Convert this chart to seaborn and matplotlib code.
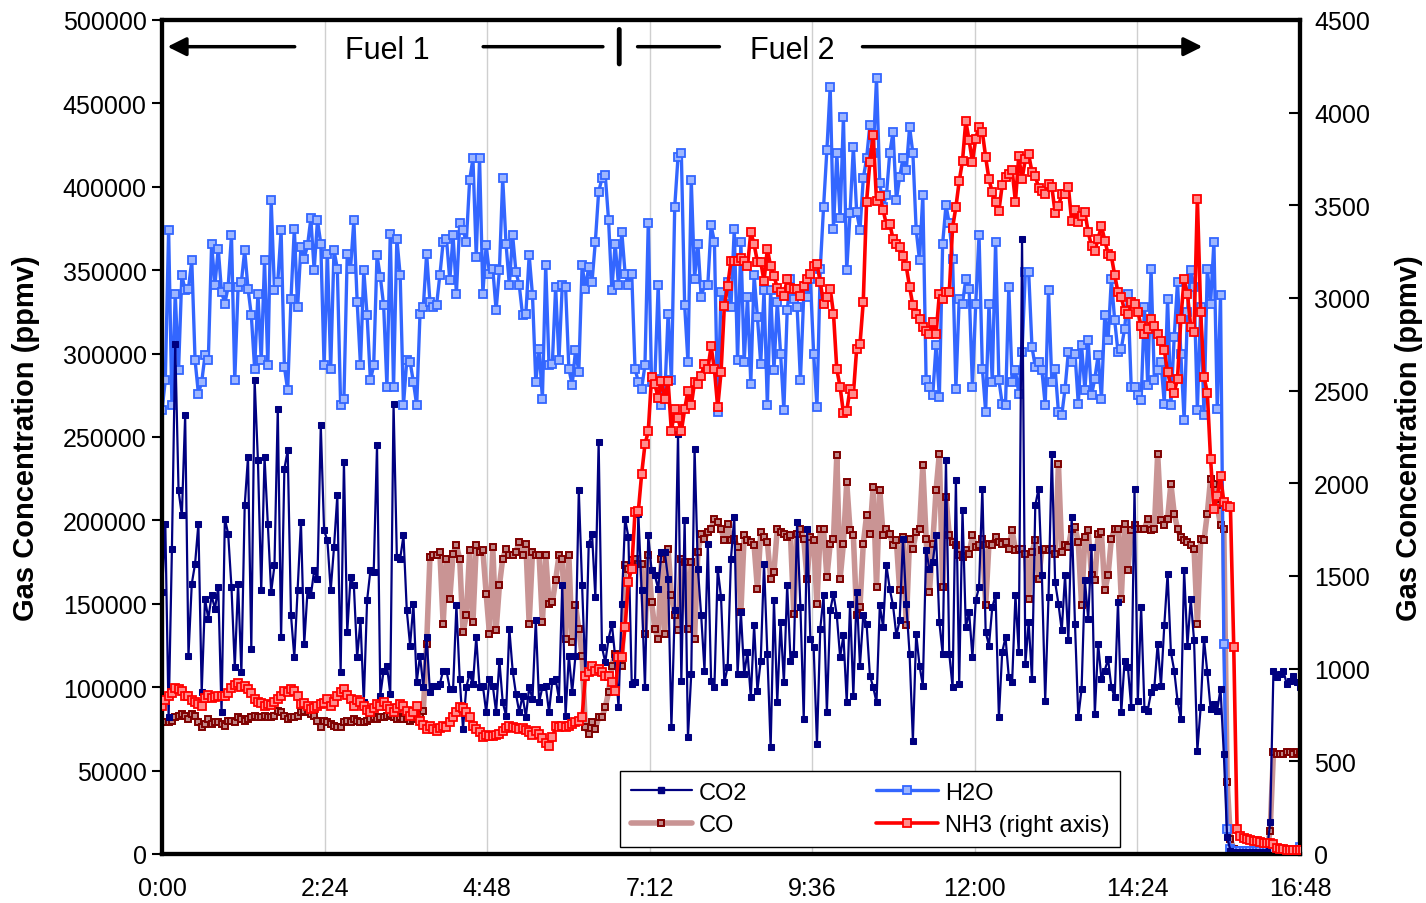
import numpy as np
import matplotlib
matplotlib.use("Agg")
import matplotlib.pyplot as plt
from matplotlib.lines import Line2D
import seaborn as sns

# sampling interval of the analyser (minutes)
step_min = 2.93

# H2O, thousands of ppmv (left axis)
h2o = [266, 284, 374, 269, 336, 290, 347, 338, 339, 356, 296, 276, 283, 299, 296, 366, 341, 363, 337, 330,
       340, 371, 284, 340, 343, 362, 339, 323, 291, 336, 296, 356, 293, 392, 338, 343, 374, 292, 278, 333,
       375, 328, 364, 357, 365, 381, 350, 380,
       366, 293, 360, 291, 362, 351, 269, 273, 360, 351, 380, 331, 293, 350, 323, 284, 293, 359, 346, 329,
       280, 372, 280, 369, 347, 269, 296, 295, 283, 269, 324, 328, 360, 331, 328, 329, 347, 367, 369, 344,
       371, 336, 378, 374, 367, 404, 417, 358,
       417, 336, 365, 348, 351, 326, 350, 405, 366, 341, 371, 349, 341, 323, 324, 359, 335, 283, 303, 273,
       353, 293, 294, 340, 296, 341, 340, 291, 281, 302, 289, 353, 339, 352, 343, 367, 397, 405, 407, 380,
       338, 366, 341, 373, 348, 341, 348, 291,
       283, 279, 293, 378, 283, 285, 341, 269, 275, 324, 284, 388, 418, 420, 329, 295, 404, 345, 366, 334,
       341, 341, 377, 367, 265, 337, 330, 343, 328, 375, 296, 367, 295, 334, 282, 347, 322, 294, 338, 269,
       338, 290, 331, 300, 266, 326, 345, 333,
       328, 284, 335, 334, 345, 300, 268, 351, 388, 422, 460, 375, 420, 381, 442, 350, 384, 424, 385, 374,
       405, 417, 437, 420, 465, 402, 388, 395, 420, 433, 392, 406, 417, 410, 436, 420, 374,
       356, 395, 284, 280, 275, 305, 274, 366, 389, 378, 357, 279, 333, 330, 345, 339, 280, 330, 371, 291,
       265, 330, 283, 367, 284, 270, 269, 340, 283, 290, 276, 301, 349, 349, 304, 292, 295, 290, 269, 338,
       283, 291, 265, 263, 279, 301, 295, 300, 270, 305, 278, 308, 275, 285, 299, 273, 323, 308, 345, 320,
       301, 303, 315, 336, 280, 280, 275, 272, 328, 281, 351, 284, 290, 295, 270, 333, 269, 310, 343, 300,
       260, 325, 350, 340, 266, 328, 263, 351, 330, 367, 267, 335, 126, 15,
       3, 2, 2, 2, 2, 2, 2, 2, 2, 2, 2, 2, 2, 2, 2, 2, 2, 2, 2, 2, 2, 4]

# CO2, thousands of ppmv (left axis)
co2 = [157, 198, 82, 183, 306, 218, 203, 263, 119, 162, 174, 198, 97, 153, 141, 155, 147, 160, 85, 201,
       192, 160, 112, 162, 109, 209, 238, 123, 284, 236, 158, 238, 198, 157, 173, 267, 130, 231, 242, 143,
       118, 158, 199, 126, 158, 155, 170, 165, 257, 194, 188, 158, 184, 215, 109, 235, 133,
       166, 161, 118, 140, 91, 152, 170, 169, 245, 95, 110, 113, 96, 270, 178, 177, 191, 146, 125, 150,
       103, 119, 100, 130, 97, 101, 101, 102, 110, 110, 99, 99, 149, 105, 75, 100, 108, 102, 130, 100,
       101, 85, 105, 101, 85, 116, 91, 83, 135, 110, 96, 85, 95, 82, 100, 93, 140, 91,
       100, 101, 85, 104, 105, 93, 161, 83, 119, 97, 119, 218, 161, 106, 186, 192, 154, 247, 124, 115,
       129, 138, 118, 88, 150, 201, 190, 102, 103, 204, 158, 100, 191, 170, 167, 159, 181, 181, 165, 76,
       146, 252, 104, 200, 70, 108, 243, 171, 143, 110, 186, 104, 100, 171, 154, 103, 112, 177,
       202, 108, 145, 108, 121, 94, 137, 98, 116, 174, 120, 64, 152, 91, 139, 103, 161, 116, 120, 199,
       148, 81, 195, 129, 124, 66, 135, 155, 85, 146, 156, 143, 118, 131, 91, 150, 95, 157, 113, 143,
       138, 107, 100, 91, 149, 136, 173, 159, 149, 131, 140, 189, 150, 120, 68, 132, 113,
       101, 182, 171, 175, 191, 139, 120, 236, 120, 100, 224, 102, 206, 136, 145, 118, 152, 160, 219, 133,
       125, 148, 155, 82, 121, 130, 106, 103, 155, 121, 369, 114, 139, 105, 209, 219, 167, 92, 154, 240,
       163, 150, 134, 167, 128, 202, 138, 82, 99, 164, 141, 184, 84, 126, 105, 110, 117, 100, 94, 151,
       85, 116, 112, 88, 219, 92, 148, 87, 86, 97, 100, 126, 101, 137, 168, 121, 110, 92, 81, 170,
       125, 153, 128, 62, 88, 129, 109, 87, 90, 86, 99, 60, 10,
       2, 1, 1, 1, 1, 1, 1, 1, 1, 1, 1, 1, 19, 110, 106, 108, 110, 102, 104, 107, 103, 100]

# CO, thousands of ppmv (left axis)
co = [79, 79, 79, 80, 82, 83, 84, 83, 81, 84, 83, 79, 76, 78, 81, 78, 79, 79, 78, 77,
      80, 80, 79, 82, 81, 80, 81, 82, 83, 82, 82, 83, 82, 82, 83, 86, 85, 83, 81, 82,
      82, 83, 85, 86, 85, 84, 83, 80, 76, 80, 79, 78, 77, 76, 76, 79, 80,
      79, 81, 80, 79, 79, 80, 81, 82, 81, 82, 82, 83, 84, 82, 81, 82, 81, 81, 80, 81,
      82, 83, 86,
      126, 178, 179, 179, 181, 138, 177, 153, 180, 185, 177, 133, 143, 182, 139, 185, 181, 182, 156, 132,
      184, 134, 161, 177, 183, 179, 179, 181, 187, 179, 186, 138, 181, 179, 179, 139, 179, 150, 151, 164,
      179, 177, 129, 179, 127, 149, 135, 119, 76, 72, 79, 75, 82, 82, 88, 97, 113, 120, 118, 113,
      173, 171, 176, 177, 174, 174, 132, 179, 151, 135, 129, 177, 132, 183, 155, 143, 134, 177, 175, 135,
      175, 129, 181, 192, 189, 193, 195, 201, 199, 195, 188, 198, 188, 189, 184, 145, 191, 188, 187, 185,
      159, 193, 190, 187, 165, 169, 195, 193, 192, 190, 191, 144, 192, 195, 189, 165, 190, 188, 150, 195,
      195, 166, 186, 189, 239, 165, 186, 223, 194, 191, 143, 148, 186, 203, 192, 220, 160, 218, 191, 195,
      192, 185, 188, 158, 190, 137, 189, 183, 193, 195, 233, 189, 157, 186, 218, 240, 160, 214, 191, 187,
      185, 179, 178, 182, 180, 191, 184, 185, 189, 149, 186, 185, 190, 187, 186, 187, 183, 194, 182, 183,
      183, 180, 153, 181, 188, 165, 182, 183, 182, 183, 180, 234, 181, 185, 184, 195, 196, 187, 149, 190,
      194, 167, 164, 192, 193, 158, 167, 189, 195, 195, 153, 198, 170, 194, 197, 195, 195, 195, 201, 194,
      195, 240, 200, 197, 201, 222, 204, 195, 190, 188, 187, 185, 183, 138, 189, 188, 204, 225, 222, 209,
      197, 195, 43,
      9, 3, 2, 2, 2, 2, 2, 2, 2, 2, 2, 2, 14, 61, 60, 60, 60, 61, 61, 60, 61, 60]

# NH3, ppmv (right axis)
nh3 = [800, 830, 850, 870, 895, 890, 880, 850, 850, 830, 820, 810, 800, 840, 860, 840, 845, 850, 855, 850,
       870, 895, 910, 920, 900, 905, 890, 870, 835, 820, 815, 800, 810, 805, 820, 835, 850, 880, 875, 890,
       880, 855, 810, 815, 800, 780, 790, 800, 810, 815, 835, 800, 820, 855, 875, 890, 860,
       835, 800, 830, 820, 800, 775, 765, 790, 810, 800, 820, 800, 780, 765, 790, 810, 800, 770, 745, 765,
       800, 720, 695, 675, 690, 675, 665, 680, 690, 685, 710, 740, 765, 795, 790, 765, 740, 690, 675, 660,
       630, 640, 635, 635, 640, 650, 665, 680, 690, 685, 680, 675, 680, 670, 660, 640, 665, 645, 625, 600,
       585, 630, 690, 685, 690, 685, 690, 700, 710, 720, 740,
       960, 980, 1015, 990, 1000, 980, 960, 960, 930, 880, 1065, 1065, 1225, 1470, 1540, 1845, 1850, 2050,
       2210, 2280, 2575, 2535, 2460, 2550, 2455, 2550, 2280, 2400, 2350, 2280, 2400, 2500, 2420, 2545,
       2535, 2580, 2645, 2615, 2740, 2615, 2410, 2600, 2955, 3065, 3200, 3200, 3200, 3215, 3200, 3170,
       3355, 3290, 3195, 3195, 3090, 3265, 3170, 3120, 3055, 3030, 3010, 3105, 3055, 3050, 3050, 3010,
       3065, 3105, 3130, 3175, 3185, 3085, 2970, 3005, 3050, 2915, 2615, 2520, 2380, 2390, 2510, 2480,
       2725, 2750, 2980, 3520, 3735, 3880, 3525, 3550, 3475, 3395, 3400, 3320, 3290, 3275, 3225, 3170,
       3060, 2960, 2915, 2885, 2845, 2820, 2805, 2870, 2805, 3020, 2995, 3030, 3030, 3380, 3490, 3630,
       3740, 3955, 3850, 3735, 3860, 3925, 3895, 3760, 3640, 3570, 3520, 3470, 3610, 3655, 3670, 3690,
       3520, 3765, 3640, 3750, 3775, 3680, 3660, 3595, 3580, 3560, 3615, 3600, 3460, 3495, 3560, 3560,
       3600, 3415, 3475, 3410, 3440, 3465, 3355, 3280, 3255, 3320, 3390, 3310, 3240, 3225, 3125, 3030,
       3005, 2930, 2915, 2980, 2970, 2925, 2850, 2805, 2835, 2885, 2850, 2805, 2770, 2720, 2600, 2525,
       2490, 2565, 2885, 3105, 3020, 2845, 2815, 3535, 2925, 2575, 2490, 2130, 1860, 1930, 2040, 1900,
       1880, 1870,
       1115, 135, 97, 85, 80, 75, 70, 68, 65, 62, 60, 58, 55, 30, 25, 25, 22, 22, 20, 20, 20, 20]

x_ticks_h = [0, 2.4, 4.8, 7.2, 9.6, 12.0, 14.4, 16.8]
x_tick_labels = ["0:00", "2:24", "4:48", "7:12", "9:36", "12:00", "14:24", "16:48"]
left_ticks = list(range(0, 500001, 50000))
right_ticks = list(range(0, 4501, 500))


def hours(values):
    return np.arange(len(values)) * step_min / 60.0


sns.set_style("white")
plt.rcParams['font.family'] = ['Liberation Sans', 'DejaVu Sans']
plt.rcParams.update({'text.color': 'black', 'axes.labelcolor': 'black',
                     'xtick.color': 'black', 'ytick.color': 'black'})

W, H = 1426, 904
fig = plt.figure(figsize=(W / 100, H / 100), dpi=100)
ax = fig.add_axes([162 / W, 1 - 855 / H, (1300 - 162) / W, (855 - 21) / H])

# left axis series
sns.lineplot(x=hours(co), y=np.array(co) * 1000, ax=ax, color='#C99494', lw=4.0,
             marker='s', markersize=5, markerfacecolor='#C08888', markeredgecolor='#800000',
             markeredgewidth=1.4, legend=False, zorder=2)
sns.lineplot(x=hours(h2o), y=np.array(h2o) * 1000, ax=ax, color='#3366FF', lw=2.4,
             marker='s', markersize=5.5, markerfacecolor='#9DB6FF', markeredgecolor='#3366FF',
             markeredgewidth=1.3, legend=False, zorder=3)
sns.lineplot(x=hours(co2), y=np.array(co2) * 1000, ax=ax, color='#000080', lw=1.6,
             marker='s', markersize=5, markerfacecolor='#000080', markeredgecolor='#000080',
             legend=False, zorder=4)

ax.set_xlim(0, 16.8)
ax.set_ylim(0, 500000)
ax.set_xticks(x_ticks_h)
ax.set_xticklabels(x_tick_labels)
ax.set_yticks(left_ticks)
ax.set_yticklabels([str(v) for v in left_ticks])
ax.grid(axis='x', color='#CFCFCF', lw=1.0)
ax.grid(axis='y', visible=False)
ax.set_axisbelow(True)
ax.set_xlabel('')
ax.set_ylabel('Gas Concentration (ppmv)', fontsize=21, fontweight='bold', labelpad=16)
ax.tick_params(axis='y', direction='out', length=7, width=1.5, labelsize=18, pad=4)
ax.tick_params(axis='x', direction='out', length=8, width=2, labelsize=18, pad=8)

# right axis: NH3
ax2 = ax.twinx()
sns.lineplot(x=hours(nh3), y=nh3, ax=ax2, color='#FF0000', lw=2.6,
             marker='s', markersize=5.5, markerfacecolor='#FF8C8C', markeredgecolor='#FF0000',
             markeredgewidth=1.3, legend=False, zorder=5)
ax2.set_ylim(0, 4500)
ax2.set_yticks(right_ticks)
ax2.set_yticklabels([str(v) for v in right_ticks])
ax2.set_ylabel('Gas Concentration (ppmv)', fontsize=21, fontweight='bold', labelpad=18)
ax2.tick_params(axis='y', direction='in', length=8, width=1.5, labelsize=18, pad=10)
ax2.grid(False)

for a in (ax, ax2):
    for s in a.spines.values():
        s.set_linewidth(3)
        s.set_color('black')

# fuel period annotations
arrow_y = 484000
ax.annotate('', xy=(0.04, arrow_y), xytext=(2.0, arrow_y),
            arrowprops=dict(arrowstyle='-|>', color='black', lw=2.5, mutation_scale=28))
ax.annotate('', xy=(6.55, arrow_y), xytext=(4.7, arrow_y),
            arrowprops=dict(arrowstyle='-', color='black', lw=2.5))
ax.text(3.33, 482000, 'Fuel 1', ha='center', va='center', fontsize=22)
ax.annotate('', xy=(6.75, 496000), xytext=(6.75, 472000),
            arrowprops=dict(arrowstyle='-', color='black', lw=3.5))
ax.annotate('', xy=(8.27, arrow_y), xytext=(6.98, arrow_y),
            arrowprops=dict(arrowstyle='-', color='black', lw=2.5))
ax.text(9.3, 482000, 'Fuel 2', ha='center', va='center', fontsize=22)
ax.annotate('', xy=(15.4, arrow_y), xytext=(10.3, arrow_y),
            arrowprops=dict(arrowstyle='-|>', color='black', lw=2.5, mutation_scale=28))

# legend
handles = [
    Line2D([], [], color='#000080', lw=1.6, marker='s', markersize=5, markerfacecolor='#000080'),
    Line2D([], [], color='#C99494', lw=4.0, marker='s', markersize=5, markerfacecolor='#C08888',
           markeredgecolor='#800000', markeredgewidth=1.4),
    Line2D([], [], color='#3366FF', lw=2.4, marker='s', markersize=5.5, markerfacecolor='#9DB6FF',
           markeredgecolor='#3366FF', markeredgewidth=1.3),
    Line2D([], [], color='#FF0000', lw=2.6, marker='s', markersize=5.5, markerfacecolor='#FF8C8C',
           markeredgecolor='#FF0000', markeredgewidth=1.3),
]
labels = ['CO2', 'CO', 'H2O', 'NH3 (right axis)']
leg = ax2.legend(handles, labels, ncol=2, loc='lower left', mode='expand',
                 bbox_to_anchor=(0.4025, 0.0084, 0.4394, 0.0863), borderaxespad=0,
                 fontsize=17, frameon=True, fancybox=False, edgecolor='black', framealpha=1,
                 handlelength=2.6, handletextpad=0.3, borderpad=0.45, labelspacing=0.45)
leg.get_frame().set_linewidth(1.0)

fig.savefig('out.png', dpi=100)
